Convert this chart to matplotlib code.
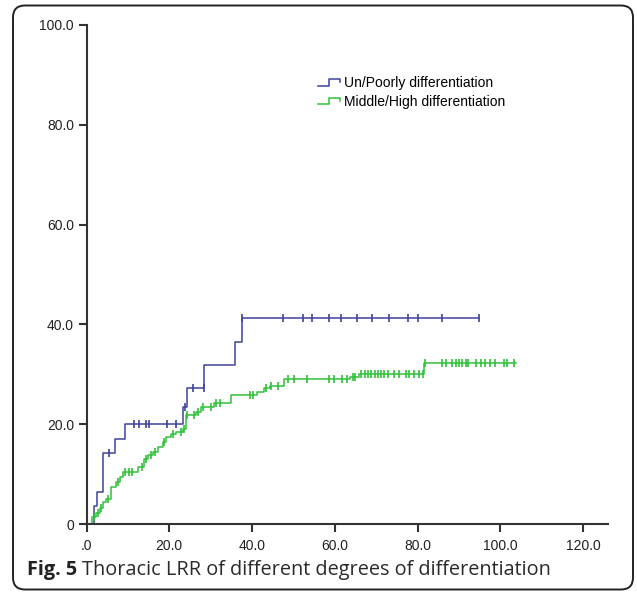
import numpy as np
import matplotlib
matplotlib.use("Agg")
import matplotlib.pyplot as plt
from matplotlib.lines import Line2D
from matplotlib.legend_handler import HandlerBase
from matplotlib.patches import FancyBboxPatch

# ---------------- data ----------------
x_ticks = [0, 20, 40, 60, 80, 100, 120]
x_tick_labels = [".0", "20.0", "40.0", "60.0", "80.0", "100.0", "120.0"]
y_ticks = [0, 20, 40, 60, 80, 100]
y_tick_labels = ["0", "20.0", "40.0", "60.0", "80.0", "100.0"]

series_names = ["Un/Poorly differentiation", "Middle/High differentiation"]

poor_times = [0.0, 1.7, 2.6, 3.9, 7.0, 9.2, 23.3, 24.2, 28.4, 35.8, 37.5]
poor_levels = [0.0, 3.6, 6.4, 14.3, 17.0, 20.0, 23.5, 27.3, 31.8, 36.5, 41.2]
poor_end = 94.8
poor_censor = [5.5, 11.5, 12.7, 14.4, 15.1, 19.4, 21.6, 23.7, 25.7, 28.3, 37.6,
               47.5, 52.2, 54.6, 58.5, 61.5, 65.4, 69.0, 73.2, 77.6, 80.0, 86.0, 94.8]

mid_times = [0.0, 1.4, 2.4, 3.2, 4.0, 4.8, 6.0, 7.2, 8.0, 8.8, 12.5, 13.8, 14.8, 16.0,
             17.2, 18.4, 19.2, 20.4, 21.6, 23.2, 24.1, 26.5, 27.6, 30.8, 34.8, 41.3,
             42.8, 44.4, 47.6, 63.7, 65.8, 81.6]
mid_levels = [0.0, 1.5, 2.3, 3.3, 4.5, 5.1, 7.5, 8.5, 9.5, 10.5, 11.5, 13.1, 13.8, 14.5,
              15.5, 16.5, 17.5, 18.1, 18.5, 19.1, 21.8, 22.4, 23.4, 24.2, 25.9, 26.5,
              27.2, 27.6, 29.0, 29.5, 30.0, 32.2]
mid_end = 103.7
mid_censor = [1.8, 2.8, 3.6, 5.2, 7.6, 9.2, 10.2, 11.0, 13.5, 14.3, 15.6, 16.6, 18.8,
              21.0, 22.8, 23.6, 24.4, 26.0, 27.0, 28.2, 30.2, 31.4, 32.2, 39.6, 40.2,
              43.4, 44.6, 46.2, 48.6, 50.2, 53.3, 58.5, 59.7, 61.7, 62.9, 64.3, 64.8,
              66.4, 67.2, 68.0, 68.8, 69.6, 70.4, 71.2, 72.0, 72.8, 74.4, 75.6, 77.2,
              78.0, 79.2, 80.4, 81.2, 81.8, 86.0, 86.8, 88.4, 89.2, 90.0, 90.8, 91.6,
              92.2, 94.0, 95.2, 96.4, 97.6, 98.8, 100.8, 101.6, 103.2]

poor_color = "#3e4399"
mid_color = "#2fc23a"

# ---------------- figure ----------------
W, H = 637, 594
fig = plt.figure(figsize=(W / 100, H / 100), dpi=100)
fig.patch.set_facecolor("white")

frame = FancyBboxPatch((0.13, 0.045), 6.2, 5.84,
                       boxstyle="round,pad=0,rounding_size=0.12",
                       transform=fig.dpi_scale_trans, facecolor="none",
                       edgecolor="#222222", linewidth=1.4, zorder=5)
fig.patches.append(frame)

ax = fig.add_axes([86.5 / W, 1 - 524 / H, (608 - 86.5) / W, (524 - 25) / H])
ax.set_facecolor("none")


def step_value(times, levels, t):
    idx = np.searchsorted(np.asarray(times), t, side="right") - 1
    return np.asarray(levels)[idx]


for times, levels, end, cens, col in [
    (poor_times, poor_levels, poor_end, poor_censor, poor_color),
    (mid_times, mid_levels, mid_end, mid_censor, mid_color),
]:
    xs = list(times) + [end]
    ys = list(levels) + [levels[-1]]
    ax.step(xs, ys, where="post", color=col, lw=1.1, zorder=3, clip_on=False)
    cy = [step_value(times, levels, c) for c in cens]
    ax.plot(cens, cy, ls="none", marker="|", ms=6, mew=1.2, color=col, zorder=4,
            clip_on=False)

ax.set_xlim(0, 126)
ax.set_ylim(0, 100)
for s in ["top", "right"]:
    ax.spines[s].set_visible(False)
for s in ["left", "bottom"]:
    ax.spines[s].set_color("#333333")
    ax.spines[s].set_linewidth(1.5)
    ax.spines[s].set_zorder(5)

tick_font = dict(family="Liberation Sans", size=10)
ax.set_xticks(x_ticks)
ax.set_xticklabels(x_tick_labels, **tick_font)
ax.set_yticks(y_ticks)
ax.set_yticklabels(y_tick_labels, **tick_font)
ax.tick_params(axis="both", direction="out", length=6, width=1.5, color="#333333",
               labelcolor="#222222")
ax.tick_params(axis="x", pad=5)
ax.tick_params(axis="y", pad=3)


class StepHandler(HandlerBase):
    def create_artists(self, legend, orig_handle, xdescent, ydescent, width, height,
                       fontsize, trans):
        fx = np.array([0.0, 0.45, 0.45, 0.95, 0.95])
        fy = np.array([0.15, 0.15, 0.8, 0.8, 0.5])
        ln = Line2D(fx * width - xdescent, fy * height - ydescent,
                    color=orig_handle.get_color(), lw=1.1, transform=trans)
        return [ln]


h1 = Line2D([], [], color=poor_color)
h2 = Line2D([], [], color=mid_color)
fig.legend([h1, h2], series_names, loc="upper left",
           bbox_to_anchor=(318 / W, 1 - 76 / H), frameon=False,
           handler_map={Line2D: StepHandler()}, handlelength=1.7, handletextpad=0.15,
           labelspacing=0.35, borderpad=0, borderaxespad=0,
           prop=dict(family="Liberation Sans", size=10))

# caption
t1 = fig.text(27 / W, 1 - 570 / H, "Fig. 5", family="Open Sans", weight="bold",
              size=14.3, va="center", ha="left", color="#222222")
fig.canvas.draw()
bb = t1.get_window_extent(fig.canvas.get_renderer())
fig.text(bb.x1 / W + 5 / W, 1 - 570 / H, "Thoracic LRR of different degrees of differentiation",
         family="Open Sans", size=14.3, va="center", ha="left", color="#2a2a2a")

fig.savefig("out.png", dpi=100, facecolor="white")
